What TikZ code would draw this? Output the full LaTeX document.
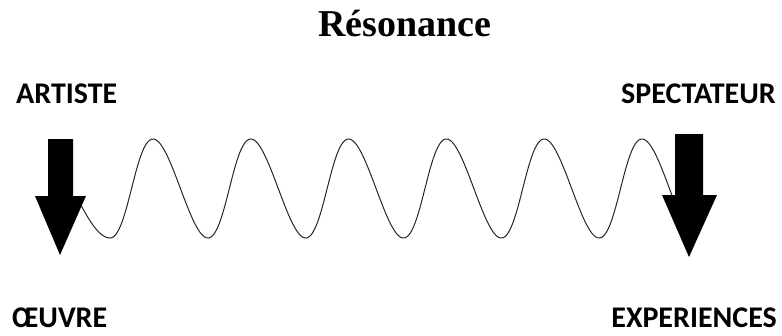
\documentclass[tikz,border=0pt]{standalone}
\usepackage{fontspec}
\newfontfamily\titlefont{Liberation Serif}
\newfontfamily\labelfont{Carlito}
\begin{document}
\begin{tikzpicture}[x=1pt,y=-1pt,
  lbl/.style={inner sep=0pt,font=\labelfont\bfseries\fontsize{30}{36}\selectfont},
  fatarrow/.style={fill=black,draw=none},
  wave/.style={line width=1pt,draw=black!85}]
\useasboundingbox (0,0) rectangle (782,335);
% title
\node[inner sep=0pt,anchor=base,font=\titlefont\bfseries\fontsize{38}{45}\selectfont] (title) at (405,36) {Résonance};
% labels
\node[lbl,anchor=base west] (artiste) at (16,103) {ARTISTE};
\node[lbl,anchor=base east] (spectateur) at (776,103) {SPECTATEUR};
\node[lbl,anchor=base west] (oeuvre) at (12,327) {ŒUVRE};
\node[lbl,anchor=base east] (experiences) at (777,327) {EXPERIENCES};
% wave
\draw[wave] plot[domain=-250:1920,samples=500,variable=\t,smooth]
  ({156 + 0.271667*\t - 3*cos(\t) + 8*(\t<-180)*(\t+180)/70}, {188.5 - 49.5*cos(\t)});
% arrows
\fill[fatarrow] (48,139) -- (73,139) -- (73,196) -- (86,196) -- (60,255) -- (35,196) -- (48,196) -- cycle;
\fill[fatarrow] (675,134) -- (703,134) -- (703,195) -- (717,195) -- (689,257) -- (662,195) -- (675,195) -- cycle;
\end{tikzpicture}
\end{document}
